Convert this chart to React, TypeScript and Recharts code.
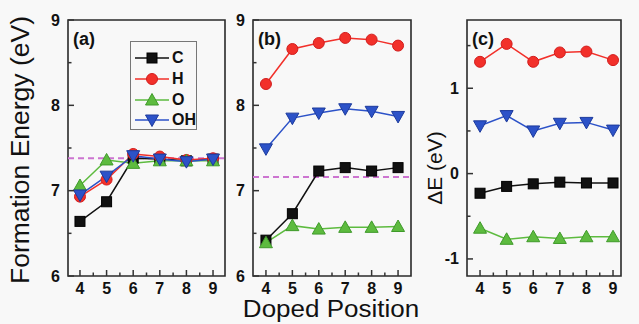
import React from 'react';
import { LineChart, Line, XAxis, YAxis, ReferenceLine, ReferenceArea, Legend } from 'recharts';

const positions = [4, 5, 6, 7, 8, 9];
const series = ['C', 'H', 'O', 'OH'];

// (a) formation energy
const aC = [6.64, 6.87, 7.38, 7.37, 7.35, 7.37];
const aH = [6.93, 7.13, 7.43, 7.4, 7.36, 7.38];
const aO = [7.06, 7.36, 7.32, 7.35, 7.35, 7.35];
const aOH = [6.95, 7.17, 7.41, 7.37, 7.34, 7.37];
const aRef = 7.38;

// (b) formation energy
const bC = [6.42, 6.73, 7.23, 7.27, 7.23, 7.27];
const bH = [8.25, 8.66, 8.73, 8.79, 8.77, 8.7];
const bO = [6.39, 6.59, 6.55, 6.57, 6.57, 6.58];
const bOH = [7.49, 7.85, 7.91, 7.96, 7.93, 7.87];
const bRef = 7.16;

// (c) delta E
const cC = [-0.23, -0.15, -0.12, -0.1, -0.11, -0.11];
const cH = [1.31, 1.52, 1.31, 1.42, 1.43, 1.33];
const cO = [-0.64, -0.77, -0.74, -0.76, -0.74, -0.74];
const cOH = [0.56, 0.68, 0.5, 0.59, 0.6, 0.51];

const xTicks = [4, 4.5, 5, 5.5, 6, 6.5, 7, 7.5, 8, 8.5, 9];
const feTicks = [6, 6.5, 7, 7.5, 8, 8.5, 9];
const deTicks = [-1, -0.5, 0, 0.5, 1, 1.5];

const COLORS: Record<string, string> = { C: '#111111', H: '#f2302a', O: '#5dbb3f', OH: '#2c52c8' };
const EDGES: Record<string, string> = { C: '#000000', H: '#d21d1d', O: '#3f9a2a', OH: '#1c3a9c' };
const FONT = '"Liberation Sans", Arial, sans-serif';
const W = 639;
const H = 324;
const TOP = 20;
const BOTTOM = 276;
const AXIS_H = 30;
const AXIS_W = 40;

const rows = (c: number[], h: number[], o: number[], oh: number[]) =>
  positions.map((p, i) => ({ pos: p, C: c[i], H: h[i], O: o[i], OH: oh[i] }));

const panels = [
  { id: 'a', left: 68, right: 225, xDomain: [3.55, 9.45], yDomain: [6, 9], yTicks: feTicks, data: rows(aC, aH, aO, aOH), ref: aRef, legend: true },
  { id: 'b', left: 253, right: 411, xDomain: [3.51, 9.49], yDomain: [6, 9], yTicks: feTicks, data: rows(bC, bH, bO, bOH), ref: bRef, legend: false },
  { id: 'c', left: 467, right: 621, xDomain: [3.51, 9.3], yDomain: [-1.2, 1.8], yTicks: deTicks, data: rows(cC, cH, cO, cOH), ref: null, legend: false },
];

function Marker({ kind, cx, cy }: { kind: string; cx: number; cy: number }) {
  const fill = COLORS[kind];
  const stroke = EDGES[kind];
  if (kind === 'C') return <rect x={cx - 5} y={cy - 5} width={10} height={10} fill={fill} stroke={stroke} strokeWidth={1} />;
  if (kind === 'H') return <circle cx={cx} cy={cy} r={5.5} fill={fill} stroke={stroke} strokeWidth={1} />;
  if (kind === 'O')
    return <polygon points={`${cx},${cy - 6.5} ${cx + 6.5},${cy + 5} ${cx - 6.5},${cy + 5}`} fill={fill} stroke={stroke} strokeWidth={1} />;
  return <polygon points={`${cx - 6.5},${cy - 5} ${cx + 6.5},${cy - 5} ${cx},${cy + 6.5}`} fill={fill} stroke={stroke} strokeWidth={1} />;
}

const isMajor = (v: number) => Math.abs(v - Math.round(v)) < 1e-6;

function XTick(props: any) {
  const { x, y, payload } = props;
  const major = isMajor(payload.value);
  return (
    <g>
      <line x1={x} y1={y} x2={x} y2={y - (major ? 6 : 3.5)} stroke="#333" strokeWidth={1.5} />
      {major && (
        <text x={x} y={y + 18} textAnchor="middle" fontFamily={FONT} fontWeight="bold" fontSize={16} fill="#111">
          {payload.value}
        </text>
      )}
    </g>
  );
}

function YTick(props: any) {
  const { x, y, payload } = props;
  const major = isMajor(payload.value);
  return (
    <g>
      <line x1={x} y1={y} x2={x + (major ? 6 : 3.5)} y2={y} stroke="#333" strokeWidth={1.5} />
      {major && (
        <text x={x - 8} y={y + 5.5} textAnchor="end" fontFamily={FONT} fontWeight="bold" fontSize={16} fill="#111">
          {payload.value}
        </text>
      )}
    </g>
  );
}

function LegendBox(props: any) {
  const items = (props.payload || []) as any[];
  return (
    <div style={{ width: 67, height: 89, border: '1px solid #777', boxSizing: 'border-box', paddingTop: 6 }}>
      {items.map((it) => (
        <div key={it.value} style={{ display: 'flex', alignItems: 'center', height: 20.7 }}>
          <svg width={38} height={16} style={{ marginLeft: 2 }}>
            <line x1={2} y1={8} x2={36} y2={8} stroke={COLORS[it.dataKey]} strokeWidth={1.5} />
            <Marker kind={it.dataKey} cx={19} cy={8} />
          </svg>
          <span style={{ fontFamily: FONT, fontWeight: 'bold', fontSize: 16, color: '#111', marginLeft: 1 }}>{it.value}</span>
        </div>
      ))}
    </div>
  );
}

const labelStyle: React.CSSProperties = { position: 'absolute', fontFamily: FONT, color: '#111', whiteSpace: 'nowrap', lineHeight: 1 };

export default function App() {
  return (
    <div style={{ position: 'absolute', left: 0, top: 0, width: W, height: H, background: '#f8f8f8', overflow: 'hidden' }}>
      {panels.map((p) => (
        <div key={p.id} style={{ position: 'absolute', left: 0, top: 0 }}>
          <LineChart
            width={W}
            height={H}
            data={p.data}
            margin={{ top: TOP, bottom: H - BOTTOM - AXIS_H, left: p.left - AXIS_W, right: W - p.right }}
          >
            <XAxis
              dataKey="pos"
              type="number"
              domain={p.xDomain}
              allowDataOverflow
              ticks={xTicks}
              interval={0}
              height={AXIS_H}
              tickSize={0}
              tickMargin={0}
              axisLine={false}
              tickLine={false}
              tick={XTick}
            />
            <YAxis
              type="number"
              domain={p.yDomain}
              allowDataOverflow
              ticks={p.yTicks}
              interval={0}
              width={AXIS_W}
              tickSize={0}
              tickMargin={0}
              axisLine={false}
              tickLine={false}
              tick={YTick}
            />
            <ReferenceArea
              x1={p.xDomain[0]}
              x2={p.xDomain[1]}
              y1={p.yDomain[0]}
              y2={p.yDomain[1]}
              fill="none"
              fillOpacity={0}
              stroke="#2a2a2a"
              strokeWidth={1.6}
            />
            {p.ref !== null && (
              <ReferenceLine y={p.ref} stroke="#cc74d0" strokeDasharray="6 4" strokeWidth={2} />
            )}
            {series.map((s) => (
              <Line
                key={s}
                dataKey={s}
                name={s}
                type="linear"
                stroke={COLORS[s]}
                strokeWidth={1.5}
                isAnimationActive={false}
                dot={(d: any) => <Marker key={`${s}-${d.index}`} kind={s} cx={d.cx} cy={d.cy} />}
                activeDot={false}
              />
            ))}
            {p.legend && (
              <Legend
                layout="vertical"
                align="center"
                verticalAlign="middle"
                content={LegendBox}
                wrapperStyle={{ position: 'absolute', left: 130, top: 41, width: 67, height: 89 }}
              />
            )}
          </LineChart>
        </div>
      ))}
      <div style={{ ...labelStyle, left: 73, top: 30, fontSize: 18, fontWeight: 'bold' }}>(a)</div>
      <div style={{ ...labelStyle, left: 258, top: 30, fontSize: 18, fontWeight: 'bold' }}>(b)</div>
      <div style={{ ...labelStyle, left: 472, top: 30, fontSize: 18, fontWeight: 'bold' }}>(c)</div>
      <div
        style={{ ...labelStyle, left: 20, top: 150, fontSize: 26.5, transform: 'translate(-50%, -50%) rotate(-90deg)' }}
      >
        Formation Energy (eV)
      </div>
      <div
        style={{ ...labelStyle, left: 434, top: 168, fontSize: 21, transform: 'translate(-50%, -50%) rotate(-90deg)' }}
      >
        ΔE (eV)
      </div>
      <div
        style={{ ...labelStyle, left: 331, top: 309, fontSize: 23, lineHeight: 0.8, transform: 'translate(-50%, -50%) scaleX(1.13)' }}
      >
        Doped Position
      </div>
    </div>
  );
}
